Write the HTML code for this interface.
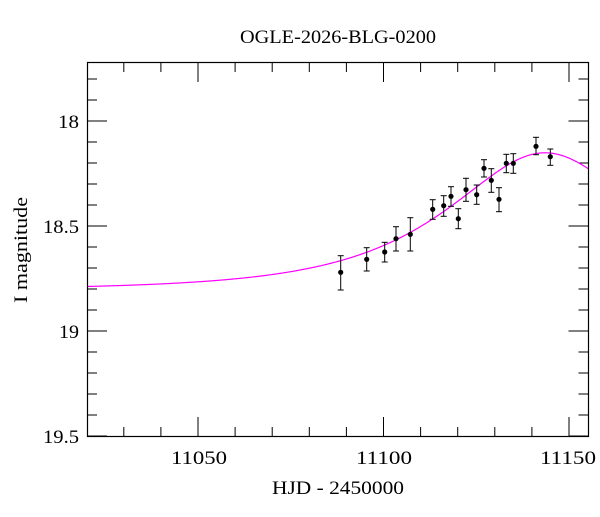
<!DOCTYPE html>
<html><head><meta charset="utf-8"><style>
html,body{margin:0;padding:0;background:#fff;}
svg text{font-family:"Liberation Serif","DejaVu Serif",serif;fill:#000;}
</style></head><body>
<svg id="s" width="600" height="512" xmlns="http://www.w3.org/2000/svg">
<text x="338" y="43" font-size="19" text-anchor="middle" textLength="196" lengthAdjust="spacingAndGlyphs">OGLE-2026-BLG-0200</text>
<text x="338" y="494" font-size="19" text-anchor="middle" textLength="132" lengthAdjust="spacingAndGlyphs">HJD - 2450000</text>
<text transform="translate(27,250) rotate(-90)" font-size="19" text-anchor="middle" textLength="106" lengthAdjust="spacingAndGlyphs">I magnitude</text>
<g font-size="19" text-anchor="end">
<text x="79" y="128" textLength="21" lengthAdjust="spacingAndGlyphs">18</text>
<text x="79" y="233" textLength="36" lengthAdjust="spacingAndGlyphs">18.5</text>
<text x="79" y="338" textLength="20" lengthAdjust="spacingAndGlyphs">19</text>
<text x="79" y="443" textLength="36" lengthAdjust="spacingAndGlyphs">19.5</text>
</g>
<g font-size="19" text-anchor="middle">
<text x="199" y="464" textLength="56" lengthAdjust="spacingAndGlyphs">11050</text>
<text x="384" y="464" textLength="56" lengthAdjust="spacingAndGlyphs">11100</text>
<text x="568" y="464" textLength="56" lengthAdjust="spacingAndGlyphs">11150</text>
</g>
<g id="ticks" stroke="#000" stroke-width="1"></g>
<path id="curve" fill="none" stroke="#f0f" stroke-width="1.2"/>
<g id="pts"></g>
<rect x="87.5" y="62.5" width="501" height="374" fill="none" stroke="#000" stroke-width="1.2"/>
</svg>
<script>
var L=87,R=588.5,T=62,B=437;
function X(t){return 198+(t-11050)*3.71;}
function Y(m){return 121+(m-18)*210;}
var g=document.getElementById('ticks'),h='';
for(var t=11030;t<=11150;t+=10){var x=X(t).toFixed(1),big=(t%50==0)?20:10;
h+='<line x1="'+x+'" y1="'+B+'" x2="'+x+'" y2="'+(B-big)+'"/><line x1="'+x+'" y1="'+T+'" x2="'+x+'" y2="'+(T+big)+'"/>';}
for(var i=8;i<=25;i++){var m=17+i*0.1,y=Y(m);if(y<T+1||y>B-1)continue;var big=(i%5==0)?20:10;y=y.toFixed(1);
h+='<line x1="'+L+'" y1="'+y+'" x2="'+(L+big)+'" y2="'+y+'"/><line x1="'+R+'" y1="'+y+'" x2="'+(R-big)+'" y2="'+y+'"/>';}
g.innerHTML=h;
var d='';for(var x=L;x<=R;x+=1){var u0=0.625,tau=(x-545)/152,u=Math.sqrt(u0*u0+tau*tau);
var A=(u*u+2)/(u*Math.sqrt(u*u+4));var y=290-2.5*Math.log10(A)*210;d+=(x==L?'M':'L')+x+','+y.toFixed(2);}
document.getElementById('curve').setAttribute('d',d);
var P=[[340.7,272.3,255.7,290],[366.7,259.3,247.7,271],[384.7,252,242.3,262],[396,238.7,226.7,251],[410.3,234.3,217.7,251],
[432.7,209.3,199.7,219.3],[443.7,205.7,195.7,216.3],[451,196.3,186.7,206.3],[458.3,218.7,208.7,228.7],[466,189.7,178.3,201.3],
[476.7,194.7,185,204.3],[484,168.3,159.7,177],[491.3,180.3,168.7,192.3],[499,199.3,187.7,211.7],[506.3,163.3,154.3,172.7],
[513.3,163.3,153.7,173.3],[536,146.3,137.3,154.7],[550.3,156.7,149,165.3]];
var s='';P.forEach(function(p){s+='<line x1="'+p[0]+'" y1="'+p[2]+'" x2="'+p[0]+'" y2="'+p[3]+'" stroke="#000"/>'+
'<line x1="'+(p[0]-3)+'" y1="'+p[2]+'" x2="'+(p[0]+3)+'" y2="'+p[2]+'" stroke="#000"/>'+
'<line x1="'+(p[0]-3)+'" y1="'+p[3]+'" x2="'+(p[0]+3)+'" y2="'+p[3]+'" stroke="#000"/>'+
'<circle cx="'+p[0]+'" cy="'+p[1]+'" r="2.6" fill="#000"/>';});
document.getElementById('pts').innerHTML=s;
</script>
</body></html>
